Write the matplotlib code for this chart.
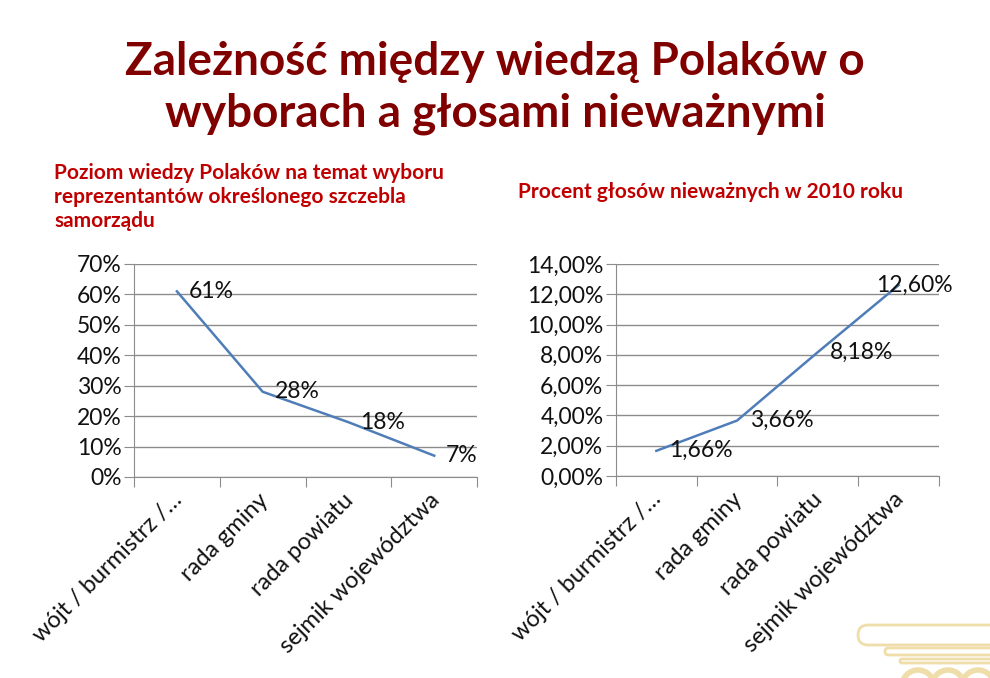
import numpy as np
import matplotlib.pyplot as plt
from matplotlib.patches import FancyBboxPatch, Circle
from matplotlib.ticker import FuncFormatter

plt.rcParams['font.family'] = ['Lato', 'DejaVu Sans']

# dane
kategorie = ['wójt / burmistrz /…', 'rada gminy', 'rada powiatu', 'sejmik województwa']
wiedza = [61, 28, 18, 7]                # % poziom wiedzy
niewazne = [1.66, 3.66, 8.18, 12.60]    # % głosów nieważnych 2010

tytul = 'Zależność między wiedzą Polaków o\nwyborach a głosami nieważnymi'
podtytul1 = 'Poziom wiedzy Polaków na temat wyboru\nreprezentantów określonego szczebla\nsamorządu'
podtytul2 = 'Procent głosów nieważnych w 2010 roku'

kolor_linii = '#4F7DB8'
szary = '#8C8C8C'
zloty = '#EFDDAA'

fig = plt.figure(figsize=(9.9, 6.78), dpi=100)
fig.patch.set_facecolor('white')

# ozdoba w prawym dolnym rogu (kapitel kolumny)
tlo = fig.add_axes([0, 0, 1, 1], zorder=-5)
tlo.set_xlim(0, 990)
tlo.set_ylim(678, 0)
tlo.axis('off')
for x0, y0, h in [(858, 625, 20), (885, 648, 7), (900, 659, 4)]:
    tlo.add_patch(FancyBboxPatch((x0, y0), 200, h, boxstyle=f'round,pad=0,rounding_size={h / 2}',
                                 fill=False, ec=zloty, lw=2))
for cx in [918, 948, 978]:
    tlo.add_patch(Circle((cx, 686), 16, fill=False, ec=zloty, lw=4))

fig.text(0.5, 0.870, tytul, ha='center', va='center', fontsize=33,
         fontweight='bold', color='#800000', linespacing=1.3)
fig.text(0.055, 0.709, podtytul1, ha='left', va='center', fontsize=15,
         fontweight='bold', color='#C00000', linespacing=1.25)
fig.text(0.523, 0.717, podtytul2, ha='left', va='center', fontsize=15,
         fontweight='bold', color='#C00000')


def rysuj(ax, y, ymax, krok, fmt, etykiety, przes):
    x = np.arange(len(y))
    ax.plot(x, y, color=kolor_linii, lw=1.8)
    ax.set_xlim(-0.5, len(y) - 0.5)
    ax.set_ylim(0, ymax)
    ax.set_yticks(np.arange(0, ymax + krok / 2, krok))
    ax.yaxis.set_major_formatter(FuncFormatter(fmt))
    ax.grid(axis='y', color=szary, lw=1)
    ax.set_axisbelow(True)
    for s in ['top', 'right']:
        ax.spines[s].set_visible(False)
    for s in ['left', 'bottom']:
        ax.spines[s].set_color(szary)
    # kreski między kategoriami, podpisy lekko w prawo od środka
    ax.set_xticks(np.arange(-0.5, len(y)))
    ax.set_xticklabels([])
    ax.set_xticks(x + 0.11, minor=True)
    ax.set_xticklabels(kategorie, minor=True, rotation=45, ha='right',
                       fontsize=17, color='#111111')
    ax.tick_params(axis='x', which='major', length=7, color=szary)
    ax.tick_params(axis='x', which='minor', length=0, pad=9)
    ax.tick_params(axis='y', length=7, color=szary, labelsize=16.5,
                   labelcolor='#111111', pad=2)
    for xi, yi, lab, dx in zip(x, y, etykiety, przes):
        ax.annotate(lab, (xi, yi), xytext=(dx, 0), textcoords='offset pixels',
                    ha='left', va='center', fontsize=16.5, color='#111111')


ax1 = fig.add_axes([0.1354, 0.2965, 0.3465, 0.3142])
rysuj(ax1, wiedza, 70, 10, lambda v, p: f'{v:.0f}%',
      [f'{v}%' for v in wiedza], [12, 12, 12, 12])

ax2 = fig.add_axes([0.6222, 0.2980, 0.3263, 0.3127])
rysuj(ax2, niewazne, 14, 2, lambda v, p: f'{v:.2f}%'.replace('.', ','),
      [f'{v:.2f}%'.replace('.', ',') for v in niewazne], [13, 13, 12, -23])

fig.savefig('out.png', dpi=100, facecolor='white')
